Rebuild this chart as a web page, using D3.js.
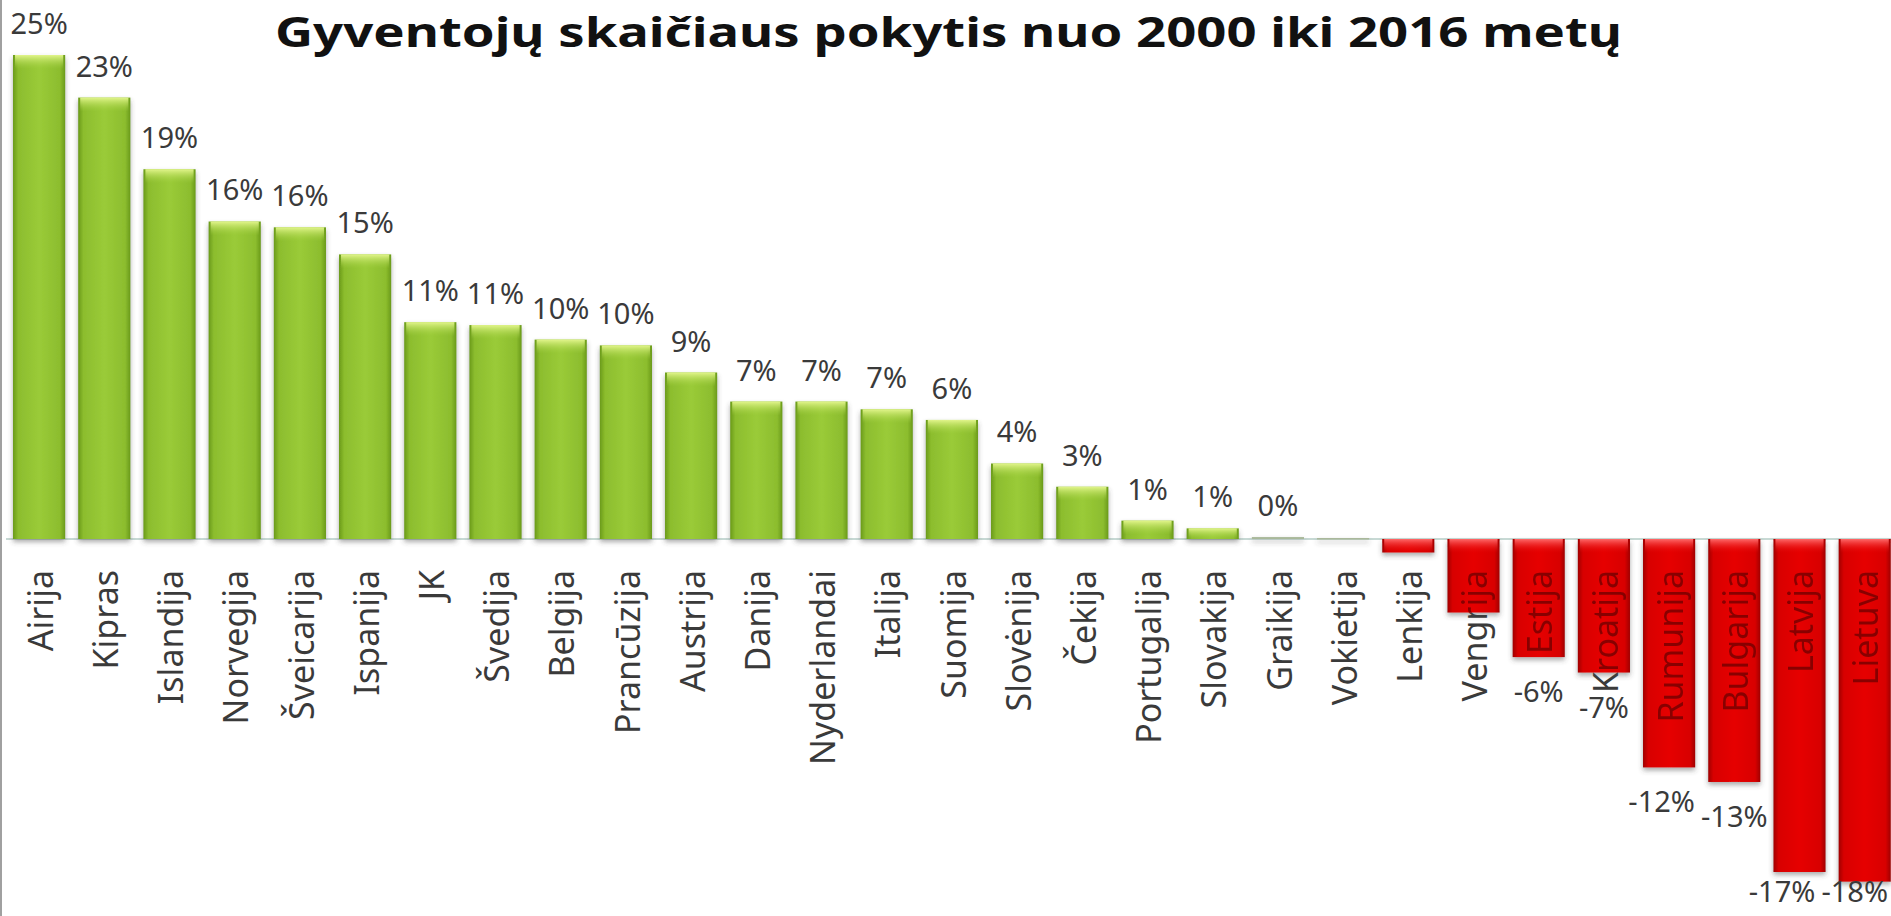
<!DOCTYPE html>
<html><head><meta charset="utf-8">
<script src="https://cdn.jsdelivr.net/npm/d3@7"></script>
<style>html,body{margin:0;padding:0;background:#fff;overflow:hidden}</style>
</head><body>
<svg id="chart" width="1891" height="916"></svg>
<script>
const countries = ["Airija","Kipras","Islandija","Norvegija","Šveicarija","Ispanija","JK","Švedija","Belgija","Prancūzija","Austrija","Danija","Nyderlandai","Italija","Suomija","Slovėnija","Čekija","Portugalija","Slovakija","Graikija","Vokietija","Lenkija","Vengrija","Estija","Kroatija","Rumunija","Bulgarija","Latvija","Lietuva"];
const changePct = [25.0,22.8,19.1,16.4,16.1,14.7,11.2,11.05,10.3,10.0,8.6,7.1,7.1,6.7,6.15,3.9,2.7,0.95,0.55,0.1,0.05,-0.7,-3.8,-6.1,-6.9,-11.8,-12.55,-17.2,-17.7];
const valueLabels = ["25%","23%","19%","16%","16%","15%","11%","11%","10%","10%","9%","7%","7%","7%","6%","4%","3%","1%","1%","0%","","","","-6%","-7%","-12%","-13%","-17%","-18%"];
const chartTitle = "Gyventojų skaičiaus pokytis nuo 2000 iki 2016 metų";

const W = 1891, H = 916;
const svg = d3.select("#chart");
const data = countries.map((c, i) => ({c, v: changePct[i], lab: valueLabels[i], i}));

const zeroY = 539, pxPerPct = 19.36;
const x = d3.scaleBand().domain(countries).range([6.5, 1897.3]).paddingInner(0.2).paddingOuter(0.1);
const y = d3.scaleLinear().domain([-19, 27.8]).range([zeroY + 19 * pxPerPct, zeroY - 27.8 * pxPerPct]);

const defs = svg.append("defs");
function hGrad(id, stops) {
  const g = defs.append("linearGradient").attr("id", id).attr("x1", 0).attr("x2", 1).attr("y1", 0).attr("y2", 0);
  stops.forEach(s => g.append("stop").attr("offset", s[0]).attr("stop-color", s[1]).attr("stop-opacity", s[2] == null ? 1 : s[2]));
}
function vGrad(id, stops) {
  const g = defs.append("linearGradient").attr("id", id).attr("x1", 0).attr("x2", 0).attr("y1", 0).attr("y2", 1);
  stops.forEach(s => g.append("stop").attr("offset", s[0]).attr("stop-color", s[1]).attr("stop-opacity", s[2] == null ? 1 : s[2]));
}
hGrad("gBody", [["0%","#6a9a1a"],["10%","#8cbd2e"],["50%","#9acb38"],["90%","#8cbd2e"],["100%","#6a9a1a"]]);
vGrad("gCap", [["0%","#e2f58c"],["100%","#a6d244",0]]);
hGrad("rBody", [["0%","#a00000"],["10%","#d80000"],["50%","#e60606"],["90%","#d80000"],["100%","#a00000"]]);
vGrad("rCap", [["0%","#ff6a6a"],["100%","#e80808",0]]);
const f = defs.append("filter").attr("id", "shadow").attr("x", "-20%").attr("y", "-20%").attr("width", "140%").attr("height", "140%");
f.append("feDropShadow").attr("dx", 0).attr("dy", 3).attr("stdDeviation", 2.5).attr("flood-color", "#444").attr("flood-opacity", 0.45);

// left border
svg.append("line").attr("x1", 1).attr("x2", 1).attr("y1", 0).attr("y2", H).attr("stroke", "#a0a0a0").attr("stroke-width", 2);

// title
svg.append("text").attr("x", 275).attr("y", 47)
  .attr("font-family", "'Noto Sans', 'Open Sans', sans-serif").attr("font-weight", "bold").attr("font-size", 42)
  .attr("fill", "#111").attr("textLength", 1347).attr("lengthAdjust", "spacingAndGlyphs").text(chartTitle);

// category labels
const labelFont = "'Noto Sans', 'Open Sans', sans-serif";
function catLabels(g, fill) {
  g.selectAll("text").data(data).join("text")
    .attr("transform", d => `translate(${x(d.c) + x.bandwidth() / 2},570) rotate(-90)`)
    .attr("text-anchor", "end").attr("dy", "0.4em")
    .attr("font-family", labelFont).attr("font-size", 34).attr("fill", fill)
    .text(d => d.c);
}
catLabels(svg.append("g"), "#3a3a3a");

// zero line
svg.append("line").attr("x1", 6).attr("x2", W).attr("y1", y(0)).attr("y2", y(0)).attr("stroke", "#b4ccc6").attr("stroke-width", 1.5);

// bars
const bars = svg.append("g").attr("filter", "url(#shadow)");
bars.selectAll("rect.body").data(data).join("rect").attr("class", "body")
  .attr("x", d => x(d.c)).attr("width", x.bandwidth())
  .attr("y", d => y(Math.max(0, d.v))).attr("height", d => Math.max(1.5, Math.abs(y(d.v) - y(0))))
  .attr("fill", d => d.v >= 0 ? (d.v < 0.3 ? "#a9b89a" : "url(#gBody)") : "url(#rBody)");
svg.append("g").selectAll("rect").data(data.filter(d => Math.abs(d.v) >= 0.3)).join("rect")
  .attr("x", d => x(d.c) + 2).attr("width", x.bandwidth() - 4)
  .attr("y", d => y(Math.max(0, d.v)))
  .attr("height", d => Math.min(14, Math.abs(y(d.v) - y(0))))
  .attr("fill", d => d.v >= 0 ? "url(#gCap)" : "url(#rCap)");

// dark-red labels seen through negative bars
const clip = defs.append("clipPath").attr("id", "negClip");
clip.selectAll("rect").data(data.filter(d => d.v < 0)).join("rect")
  .attr("x", d => x(d.c)).attr("width", x.bandwidth())
  .attr("y", y(0)).attr("height", d => y(d.v) - y(0));
catLabels(svg.append("g").attr("clip-path", "url(#negClip)").attr("opacity", 0.75), "#6a0000");

// value labels
const vl = svg.append("g").selectAll("text").data(data.filter(d => d.lab !== "")).join("text")
  .attr("text-anchor", "middle")
  .attr("font-family", labelFont).attr("font-size", 29).attr("fill", "#3a3a3a")
  .text(d => d.lab);
const pos = [];
vl.each(function (d) {
  const w = this.getComputedTextLength();
  const cx = x(d.c) + x.bandwidth() / 2;
  const by = d.v >= 0 ? y(d.v) - 21 : Math.min(y(d.v) + 45, 902);
  pos.push({node: this, d, w, cx, by});
});
// keep inside right edge and avoid overlaps among negative labels
pos.forEach(p => { if (p.cx + p.w / 2 > W - 3) p.cx = W - 3 - p.w / 2; });
for (let k = pos.length - 2; k >= 0; k--) {
  const a = pos[k], b = pos[k + 1];
  if (a.d.v < 0 && Math.abs(a.by - b.by) < 26) {
    const maxRight = b.cx - b.w / 2 - 6;
    if (a.cx + a.w / 2 > maxRight) a.cx = maxRight - a.w / 2;
  }
}
pos.forEach(p => d3.select(p.node).attr("x", p.cx).attr("y", p.by));
</script>
</body></html>
